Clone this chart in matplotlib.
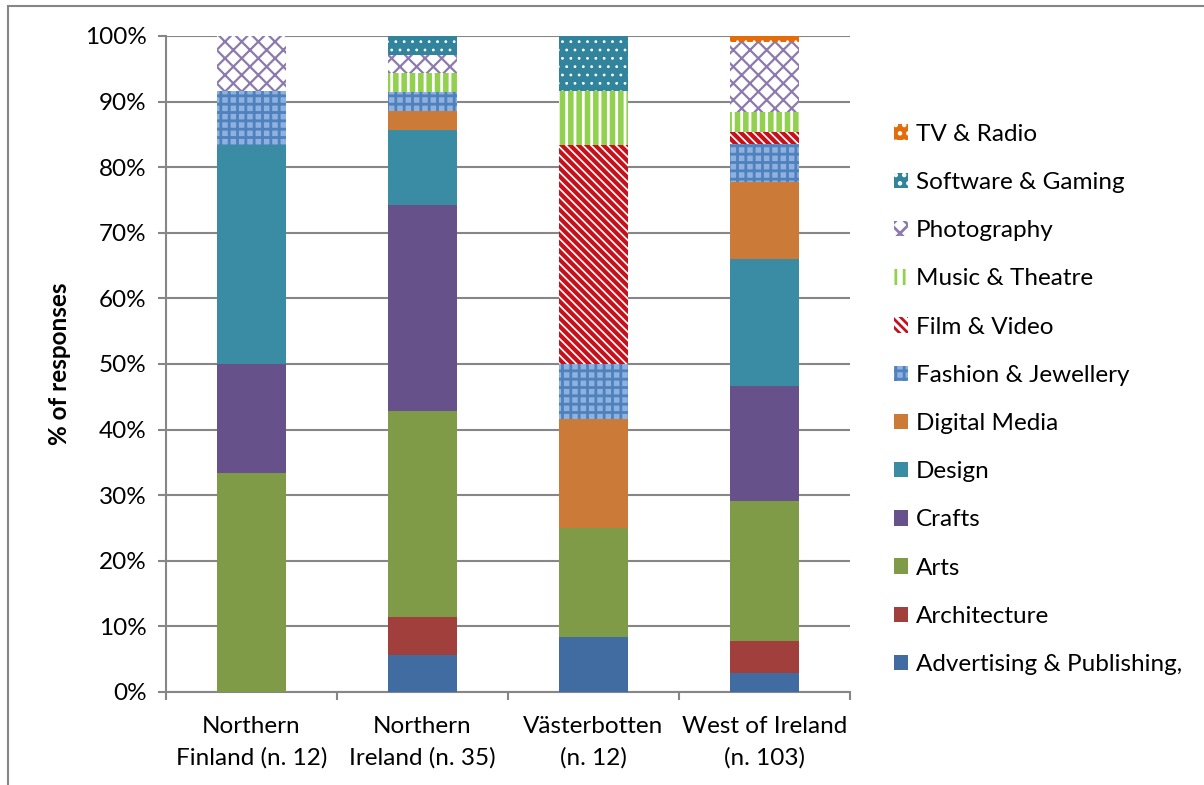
import matplotlib
matplotlib.use("Agg")
import matplotlib.pyplot as plt
import matplotlib.patches as mpatches
import numpy as np

plt.rcParams['font.family'] = ['Lato', 'DejaVu Sans']
plt.rcParams['hatch.linewidth'] = 2.0

regions = ["Northern\nFinland (n. 12)", "Northern\nIreland (n. 35)", "Västerbotten\n(n. 12)", "West of Ireland\n(n. 103)"]
totals = [12, 35, 12, 103]

categories = ["Advertising & Publishing,", "Architecture", "Arts", "Crafts", "Design",
              "Digital Media", "Fashion & Jewellery", "Film & Video", "Music & Theatre",
              "Photography", "Software & Gaming", "TV & Radio"]

# response counts per region (order of regions above)
advertising = [0, 2, 1, 3]
architecture = [0, 2, 0, 5]
arts = [4, 11, 2, 22]
crafts = [2, 11, 0, 18]
design = [4, 4, 0, 20]
digital_media = [0, 1, 2, 12]
fashion = [1, 1, 1, 6]
film = [0, 0, 4, 2]
music = [0, 1, 1, 3]
photography = [1, 1, 0, 11]
software = [0, 1, 1, 0]
tv_radio = [0, 0, 0, 1]

series = [advertising, architecture, arts, crafts, design, digital_media, fashion,
          film, music, photography, software, tv_radio]

# styles: (facecolor, hatch, hatch colour, hatch linewidth)
styles = [
    ("#416CA1", None, None, None),
    ("#A13F3D", None, None, None),
    ("#7F9B48", None, None, None),
    ("#67518A", None, None, None),
    ("#3A8CA5", None, None, None),
    ("#CC7A38", None, None, None),
    ("#8FB1E0", "++", "#4F81BD", 2.0),
    ("#FFFFFF", "\\\\\\\\", "#C8101A", 3.0),
    ("#FFFFFF", "||", "#92D050", 4.0),
    ("#FFFFFF", "xx", "#8C7AAE", 1.6),
    ("#31849B", "..", "#FFFFFF", 0.8),
    ("#E46C0A", "..", "#FFFFFF", 0.8),
]

FS = 17.5

fig = plt.figure(figsize=(12.04, 7.85), dpi=100)
ax = fig.add_axes([166/1204, 1-692/785, (850-166)/1204, (692-36)/785])

x = np.arange(len(regions))
bottom = np.zeros(len(regions))
handles = []
for name, vals, (fc, h, hc, hlw) in zip(categories, series, styles):
    pct = np.array(vals) / np.array(totals) * 100
    kw = dict(color=fc, linewidth=0)
    if h:
        kw.update(hatch=h, edgecolor=hc)
    bars = ax.bar(x, pct, 0.4, bottom=bottom, zorder=3, **kw)
    hp = mpatches.Patch(facecolor=fc, hatch=h, edgecolor=hc if h else fc, linewidth=0, label=name)
    if h:
        for b in list(bars) + [hp]:
            try:
                b.set_hatch_linewidth(hlw)
            except Exception:
                pass
    bottom += pct
    handles.append(hp)

ax.set_xlim(-0.5, 3.5)
ax.set_ylim(0, 100)
ax.set_yticks(np.arange(0, 101, 10))
ax.set_yticklabels([f"{v}%" for v in range(0, 101, 10)], fontsize=FS)
ax.yaxis.grid(True, color="#868686", linewidth=1.5, zorder=0)
ax.set_axisbelow(True)

ax.set_xticks(np.arange(-0.5, 4, 1))
ax.set_xticklabels([])
ax.set_xticks(x, minor=True)
ax.set_xticklabels(regions, minor=True, fontsize=FS, linespacing=1.6)
ax.tick_params(axis='x', which='minor', length=0, pad=17)
ax.tick_params(axis='x', which='major', length=6, width=1.5, color="#868686", direction='out')
ax.tick_params(axis='y', length=6, width=1.5, color="#868686", direction='out', pad=8)

for s in ("top", "right"):
    ax.spines[s].set_visible(False)
for s in ("left", "bottom"):
    ax.spines[s].set_color("#868686")
    ax.spines[s].set_linewidth(1.5)

ax.set_ylabel("% of responses", fontsize=FS, fontweight='bold', labelpad=10)

leg = fig.legend(handles=handles[::-1], loc='upper left', bbox_to_anchor=(884/1204, 1-114/785),
                 frameon=False, fontsize=FS, handlelength=0.6, handleheight=0.6,
                 handletextpad=0.3, labelspacing=1.12, borderaxespad=0)

# chart area border
border = mpatches.Rectangle((8/1204, -0.05), 1.1, 1-6/785+0.05, transform=fig.transFigure,
                            fill=False, edgecolor="#868686", linewidth=1.5)
fig.add_artist(border)

fig.savefig("out.png", dpi=100)
